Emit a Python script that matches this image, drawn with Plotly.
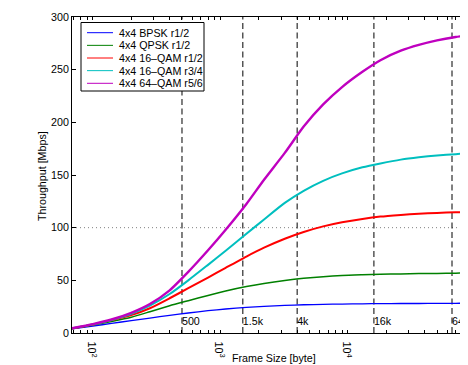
import numpy as np
import plotly.graph_objects as go

# ---- data ----
frame_size = [68.6, 100, 140, 200, 280, 400, 560, 800, 1100, 1600, 2200, 3200, 4500,
              6400, 9000, 13000, 18000, 26000, 36000, 50000, 70000, 87500]
bpsk_r12  = [3.9, 6.5, 9.2, 11.7, 14.2, 16.8, 19.0, 21.2, 22.8, 24.3, 25.3, 26.2, 26.8,
             27.2, 27.5, 27.7, 27.9, 28.0, 28.0, 28.1, 28.2, 28.3]
qpsk_r12  = [4.1, 7.6, 11.0, 15.0, 20.2, 25.9, 30.7, 35.7, 39.9, 44.1, 47.1, 49.9, 51.9,
             53.4, 54.6, 55.3, 55.8, 56.1, 56.4, 56.6, 56.8, 57.0]
qam16_r12 = [4.3, 8.0, 12.2, 17.0, 23.5, 33.0, 42.5, 52.6, 61.9, 72.6, 81.0, 89.5, 95.9,
             101.2, 105.1, 108.3, 110.5, 112.1, 113.3, 114.0, 114.6, 114.9]
qam16_r34 = [4.4, 8.2, 12.4, 18.3, 26.0, 37.0, 50.0, 64.7, 78.0, 94.2, 107.8, 123.5, 135.0,
             144.5, 151.5, 157.3, 161.0, 164.6, 166.8, 168.5, 169.8, 170.6]
qam64_r56 = [4.5, 8.4, 12.8, 19.2, 27.5, 40.5, 58.0, 78.5, 98.0, 122.5, 145.5, 171.0, 196.0,
             217.0, 233.5, 248.0, 259.0, 268.0, 273.5, 277.8, 281.0, 282.6]

series_names = ["4x4 BPSK r1/2", "4x4 QPSK r1/2", "4x4 16–QAM r1/2", "4x4 16–QAM r3/4", "4x4 64–QAM r5/6"]
series_values = [bpsk_r12, qpsk_r12, qam16_r12, qam16_r34, qam64_r56]
series_colors = ["#0000FF", "#008000", "#FF0000", "#00BFBF", "#BF00BF"]
series_widths = [1.3, 1.5, 2.0, 2.0, 2.4]

marker_sizes = [500, 1500, 4000, 16000, 65536]
marker_labels = ["500", "1.5k", "4k", "16k", "64k"]

y_ticks = [0, 50, 100, 150, 200, 250, 300]
x_decades = [100, 1000, 10000]
x_decade_labels = ["10<sup>2</sup>", "10<sup>3</sup>", "10<sup>4</sup>"]

FONT = "Liberation Sans, Arial, Helvetica, sans-serif"
FS = 10.7

# page has an 8px body margin; figure is sized so that the page is 468x365
OFF = 8
W, H = 468 - OFF, 365 - OFF
ML, MR, MT, MB = 72 - OFF, 0, 17 - OFF, 365 - 333
PW, PH = W - ML - MR, H - MT - MB

def px2x(px):
    return (px - OFF - ML) / PW

def px2y(py):
    return (H - MB - (py - OFF)) / PH

x_lo, x_hi = np.log10(68.6), 4.942

fig = go.Figure()

# vertical dashed markers
for v in marker_sizes:
    fig.add_trace(go.Scatter(x=[v, v], y=[0, 300], mode="lines",
                             line=dict(color="black", width=1, dash="6px,3.5px"),
                             showlegend=False, hoverinfo="skip"))

# horizontal dotted line at 100
fig.add_shape(type="line", xref="paper", yref="y", x0=0, x1=1, y0=100, y1=100,
              line=dict(color="#808080", width=1, dash="1px,3px"), layer="below")

for name, vals, col, w in zip(series_names, series_values, series_colors, series_widths):
    fig.add_trace(go.Scatter(x=frame_size, y=vals, mode="lines", name=name,
                             line=dict(color=col, width=w, shape="spline", smoothing=0.6),
                             showlegend=False))

# labels of the dashed markers
fig.add_trace(go.Scatter(x=marker_sizes, y=[10.4] * len(marker_sizes), mode="text",
                         text=marker_labels, textposition="middle right",
                         textfont=dict(family=FONT, size=FS, color="black"),
                         showlegend=False, hoverinfo="skip", cliponaxis=False))

# ---- manual legend (MATLAB style) ----
fig.add_shape(type="rect", xref="paper", yref="paper",
              x0=px2x(81), x1=px2x(204), y0=px2y(91), y1=px2y(22.5),
              line=dict(color="black", width=1), fillcolor="white", layer="above")
for i, (name, col) in enumerate(zip(series_names, series_colors)):
    py = 32.7 + 12.65 * i
    fig.add_shape(type="line", xref="paper", yref="paper",
                  x0=px2x(87), x1=px2x(113), y0=px2y(py), y1=px2y(py),
                  line=dict(color=col, width=1), layer="above")
    fig.add_annotation(xref="paper", yref="paper", x=px2x(116.5), y=px2y(py),
                       text=name, showarrow=False, xanchor="left", yanchor="middle",
                       font=dict(family=FONT, size=FS, color="black"))

# axis titles
fig.add_annotation(xref="paper", yref="paper", x=px2x(274), y=px2y(358),
                   text="Frame Size [byte]", showarrow=False,
                   xanchor="center", yanchor="middle",
                   font=dict(family=FONT, size=FS, color="black"))
fig.add_annotation(xref="paper", yref="paper", x=px2x(42), y=px2y(176),
                   text="Throughput [Mbps]", showarrow=False, textangle=-90,
                   xanchor="center", yanchor="middle",
                   font=dict(family=FONT, size=FS, color="black"))

# x ticks: decades with labels, minor positions without
tickvals, ticktext = [], []
for d in [10, 100, 1000, 10000]:
    for k in range(1, 10):
        v = d * k
        if 68 <= v <= 90000:
            tickvals.append(v)
            if v in x_decades:
                ticktext.append(x_decade_labels[x_decades.index(v)])
            else:
                ticktext.append(" ")

fig.update_xaxes(type="log", range=[x_lo, x_hi], tickvals=tickvals, ticktext=ticktext,
                 ticks="inside", ticklen=3, tickcolor="black", tickwidth=1,
                 showline=True, linecolor="black", linewidth=1, mirror="allticks",
                 showgrid=False, zeroline=False,
                 tickfont=dict(family=FONT, size=FS, color="black"))
fig.update_yaxes(range=[0, 300], tickvals=y_ticks,
                 ticks="inside", ticklen=4, tickcolor="black", tickwidth=1,
                 showline=True, linecolor="black", linewidth=1, mirror=False,
                 showgrid=False, zeroline=False,
                 tickfont=dict(family=FONT, size=FS, color="black"))

fig.update_layout(width=W, height=H, margin=dict(l=ML, r=MR, t=MT, b=MB, pad=0),
                  plot_bgcolor="white", paper_bgcolor="white", showlegend=False,
                  font=dict(family=FONT, size=FS, color="black"))

fig.write_html("out.html",
               post_script="document.documentElement.style.overflow='hidden';"
                           "document.body.style.overflow='hidden';")
